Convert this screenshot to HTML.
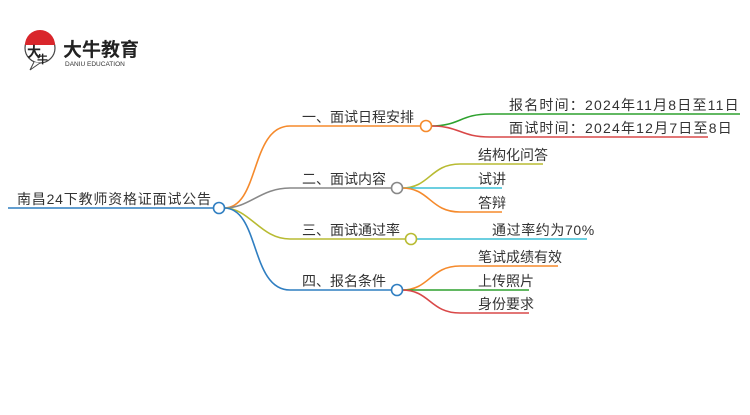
<!DOCTYPE html>
<html><head><meta charset="utf-8"><style>
body{margin:0;width:750px;height:410px;background:#fff;overflow:hidden}
svg text{font-family:"Liberation Sans","Noto Sans CJK SC",sans-serif;font-size:14px;fill:#333}
</style></head><body>
<svg width="750" height="410" xmlns="http://www.w3.org/2000/svg">
<!-- logo -->
<circle cx="40" cy="48" r="15" fill="#fff" stroke="#444" stroke-width="1.2"/>
<path d="M25,45 A15,15 0 0 1 55,45 Z" fill="#d9262b"/>
<path d="M34,62 L30,70 L40,63" fill="#fff" stroke="#444" stroke-width="1"/>
<text x="27" y="57" style="font-size:14px;font-weight:bold;fill:#222">大</text>
<text x="37" y="63" style="font-size:11px;font-weight:bold;fill:#222">牛</text>
<text x="63" y="56" style="font-size:19px;font-weight:bold;fill:#222">大牛教育</text>
<text x="65" y="66" style="font-size:6.5px;fill:#333">DANIU EDUCATION</text>

<g fill="none" stroke-width="1.6">
<path d="M8,208 H213" stroke="#2f7ec1"/>
<path d="M224,208 C260,208 250,126 290,126 H421" stroke="#f58a2c"/>
<path d="M224,208 C250,208 260,188 290,188 H392" stroke="#888"/>
<path d="M224,208 C250,208 260,239 290,239 H406" stroke="#b8bb32"/>
<path d="M224,208 C260,208 250,290 290,290 H392" stroke="#2f7ec1"/>
<path d="M431,126 C460,126 460,114 490,114 H740" stroke="#2ea12e"/>
<path d="M431,126 C460,126 460,137 490,137 H708" stroke="#d94848"/>
<path d="M402,188 C430,188 430,164 460,164 H543" stroke="#b8bb32"/>
<path d="M402,188 H502" stroke="#3cbfd6"/>
<path d="M402,188 C430,188 430,212 460,212 H502" stroke="#f58a2c"/>
<path d="M416,239 H587" stroke="#3cbfd6"/>
<path d="M402,290 C430,290 430,266 460,266 H558" stroke="#f58a2c"/>
<path d="M402,290 H529" stroke="#2ea12e"/>
<path d="M402,290 C430,290 430,313 460,313 H529" stroke="#d94848"/>
</g>
<g fill="#fff" stroke-width="1.6">
<circle cx="219" cy="208" r="5.5" stroke="#2f7ec1"/>
<circle cx="426" cy="126" r="5.5" stroke="#f58a2c"/>
<circle cx="397" cy="188" r="5.5" stroke="#888"/>
<circle cx="411" cy="239" r="5.5" stroke="#b8bb32"/>
<circle cx="397" cy="290" r="5.5" stroke="#2f7ec1"/>
</g>
<text x="17" y="204" letter-spacing="0.8">南昌24下教师资格证面试公告</text>
<text x="302" y="122">一、面试日程安排</text>
<text x="302" y="184">二、面试内容</text>
<text x="302" y="235">三、面试通过率</text>
<text x="302" y="286">四、报名条件</text>
<text x="509" y="110" letter-spacing="1.2">报名时间：2024年11月8日至11日</text>
<text x="509" y="133" letter-spacing="1.2">面试时间：2024年12月7日至8日</text>
<text x="478" y="160">结构化问答</text>
<text x="478" y="184">试讲</text>
<text x="478" y="208">答辩</text>
<text x="492" y="235" letter-spacing="0.6">通过率约为70%</text>
<text x="478" y="262">笔试成绩有效</text>
<text x="478" y="286">上传照片</text>
<text x="478" y="309">身份要求</text>
</svg>
</body></html>
